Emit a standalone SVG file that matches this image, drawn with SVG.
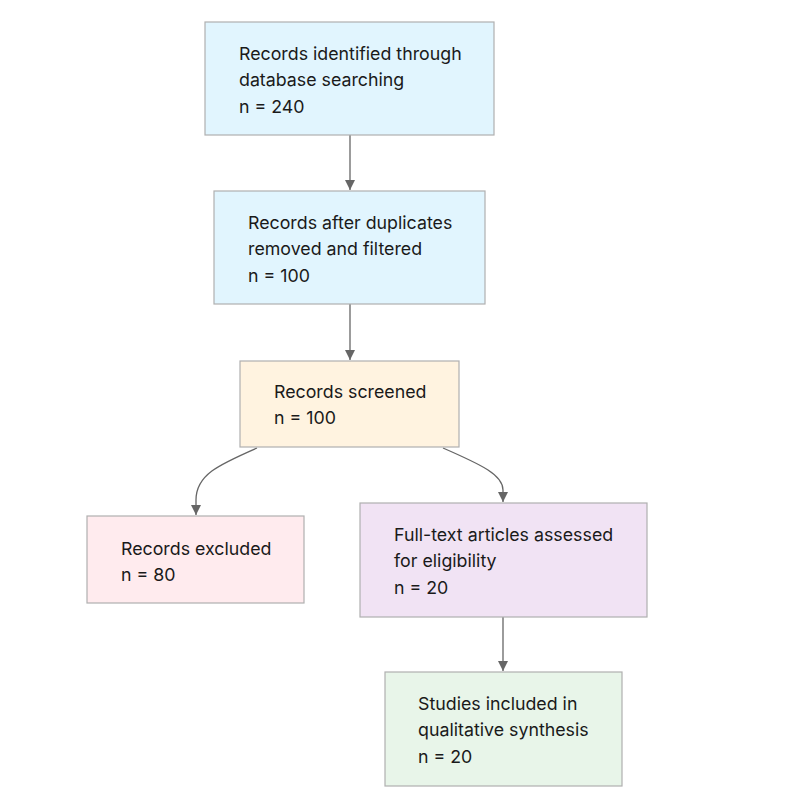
<svg xmlns="http://www.w3.org/2000/svg" width="806" height="810" viewBox="0 0 806 810">
<style>
.box{stroke:#b0b0b0;stroke-width:1.2}
.t{font-family:Inter,"Liberation Sans",sans-serif;font-size:17.8px;fill:#1a1a1a}
.c{fill:none;stroke:#666;stroke-width:1.3}
</style>
<defs>
<marker id="ah" viewBox="0 0 10 10" refX="10" refY="5" markerWidth="10" markerHeight="10" markerUnits="userSpaceOnUse" orient="auto">
<path d="M0,0 L10,5 L0,10 z" fill="#666"/>
</marker>
</defs>
<rect width="806" height="810" fill="#fff"/>
<g id="connectors">
<path class="c" d="M350,135 L350,190" marker-end="url(#ah)"/>
<path class="c" d="M350,304 L350,360" marker-end="url(#ah)"/>
<path class="c" d="M257,448 C218,465 196,475 196,500 L196,515" marker-end="url(#ah)"/>
<path class="c" d="M443,448 C482,465 503,475 503,490 L503,502" marker-end="url(#ah)"/>
<path class="c" d="M503,617 L503,671" marker-end="url(#ah)"/>
</g>
<g id="n1">
<rect class="box" x="205" y="22" width="289" height="113" fill="#e1f5fe"/>
<text class="t" x="239" y="59.5">Records identified through</text>
<text class="t" x="239" y="86">database searching</text>
<text class="t" x="239" y="112.5">n = 240</text>
</g>
<g id="n2">
<rect class="box" x="214" y="191" width="271" height="113" fill="#e1f5fe"/>
<text class="t" x="248" y="228.5">Records after duplicates</text>
<text class="t" x="248" y="255">removed and filtered</text>
<text class="t" x="248" y="281.5">n = 100</text>
</g>
<g id="n3">
<rect class="box" x="240" y="361" width="219" height="86" fill="#fff3e0"/>
<text class="t" x="274" y="397.5">Records screened</text>
<text class="t" x="274" y="424">n = 100</text>
</g>
<g id="n4">
<rect class="box" x="87" y="516" width="217" height="87" fill="#ffebee"/>
<text class="t" x="121" y="554.5">Records excluded</text>
<text class="t" x="121" y="581">n = 80</text>
</g>
<g id="n5">
<rect class="box" x="360" y="503" width="287" height="114" fill="#f1e3f4"/>
<text class="t" x="394" y="540.5">Full-text articles assessed</text>
<text class="t" x="394" y="567">for eligibility</text>
<text class="t" x="394" y="593.5">n = 20</text>
</g>
<g id="n6">
<rect class="box" x="385" y="672" width="237" height="114" fill="#e8f5e9"/>
<text class="t" x="418" y="709.5">Studies included in</text>
<text class="t" x="418" y="736">qualitative synthesis</text>
<text class="t" x="418" y="762.5">n = 20</text>
</g>
</svg>
